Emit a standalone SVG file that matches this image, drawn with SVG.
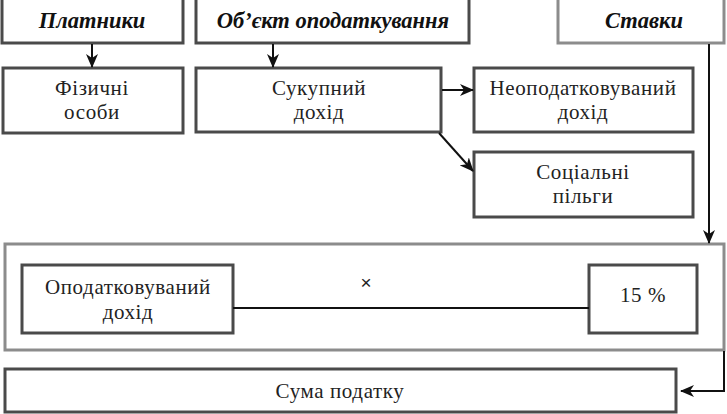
<svg xmlns="http://www.w3.org/2000/svg" width="727" height="414" viewBox="0 0 727 414">
<defs>
<marker id="ah" markerWidth="14" markerHeight="12" refX="13" refY="6" orient="auto" markerUnits="userSpaceOnUse">
<path d="M0,0 L14,6 L0,12 L4,6 Z" fill="#111"/>
</marker>
<style>
.box{fill:#fff;stroke:#4a4a4a;stroke-width:3}
.lbox{fill:#fff;stroke:#8c8c8c;stroke-width:3}
.hd{font-family:"Liberation Serif","Times New Roman",serif;font-weight:bold;font-style:italic;font-size:22.5px;fill:#111;text-anchor:middle}
.tx{font-family:"Liberation Serif","Times New Roman",serif;font-size:21px;letter-spacing:0.6px;fill:#222;text-anchor:middle}
.cn{fill:none;stroke:#111;stroke-width:2}
</style>
</defs>
<rect width="727" height="414" fill="#fff"/>
<g id="platnyky"><rect class="box" x="2" y="-2" width="181" height="45"/><text class="hd" x="92" y="28">Платники</text></g>
<g id="obiekt"><rect class="box" x="196" y="-2" width="273" height="45"/><text class="hd" x="333" y="28">Об’єкт оподаткування</text></g>
<g id="stavky"><rect class="lbox" x="558" y="-2" width="166" height="45"/><text class="hd" x="644" y="28">Ставки</text></g>
<g id="fizychni"><rect class="box" x="3" y="68" width="180" height="65"/><text class="tx" x="92" y="95">Фізичні</text><text class="tx" x="92" y="119">особи</text></g>
<g id="sukupnyi"><rect class="box" x="196" y="68" width="245" height="64"/><text class="tx" x="319" y="95">Сукупний</text><text class="tx" x="319" y="119">дохід</text></g>
<g id="neopod"><rect class="box" x="474" y="68" width="219" height="64"/><text class="tx" x="583" y="95">Неоподатковуваний</text><text class="tx" x="583" y="119">дохід</text></g>
<g id="sotsialni"><rect class="box" x="474" y="152" width="219" height="65"/><text class="tx" x="583" y="179">Соціальні</text><text class="tx" x="583" y="203">пільги</text></g>
<g id="rozrakhunok"><rect class="lbox" x="5" y="244" width="719" height="106"/></g>
<g id="opodatk"><rect class="box" x="22" y="265" width="211" height="68"/><text class="tx" x="128" y="294" font-size="21.5" letter-spacing="1">Оподатковуваний</text><text class="tx" x="128" y="319" font-size="21.5" letter-spacing="1">дохід</text></g>
<g id="stavka"><rect class="box" x="589" y="265" width="108" height="68"/><text class="tx" x="643" y="302" font-size="23.5">15 %</text></g>
<g id="suma"><rect class="box" x="5" y="369" width="671" height="43"/><text class="tx" x="340" y="398" font-size="24" letter-spacing="0" fill="#555">Сума податку</text></g>
<g id="connectors">
<line class="cn" x1="92" y1="44" x2="92" y2="67" marker-end="url(#ah)"/>
<line class="cn" x1="273" y1="44" x2="273" y2="67" marker-end="url(#ah)"/>
<line class="cn" x1="442" y1="90" x2="473" y2="90" marker-end="url(#ah)"/>
<line class="cn" x1="439" y1="133" x2="473" y2="171" marker-end="url(#ah)"/>
<line class="cn" x1="709" y1="44" x2="709" y2="243" marker-end="url(#ah)"/>
<line x1="233" y1="308" x2="589" y2="308" stroke="#111" stroke-width="2"/>
<text x="366" y="289" font-family="'Liberation Sans',sans-serif" font-size="19" fill="#222" text-anchor="middle">×</text>
<polyline class="cn" points="724,351 724,391 681,391" marker-end="url(#ah)"/>
</g>
</svg>
